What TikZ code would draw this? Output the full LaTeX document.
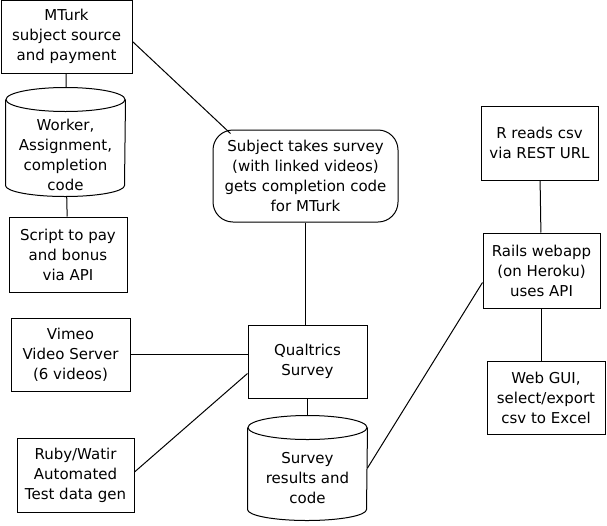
\documentclass[tikz,border=0pt]{standalone}
\usepackage{fontspec}
\setmainfont{DejaVu Sans}
\usetikzlibrary{
backgrounds
}
% database drum drawn on the frame of a named node
\newcommand{\drawdb}[1]{%
  \draw[fill=white] ([yshift=-12pt]#1.north west) -- ([yshift=11pt]#1.south west)
    arc[start angle=180, end angle=360, x radius=59.5pt, y radius=11pt]
    -- ([yshift=-12pt]#1.north east);
  \draw ([yshift=-12pt]#1.north) ellipse[x radius=59.5pt, y radius=12pt];}

\begin{document}
\begin{tikzpicture}[
    x=1pt, y=-1pt,
    line width=1pt,
    txt/.style={align=center, inner sep=0pt, font=\fontsize{15}{20}\selectfont},
    box/.style={txt, draw, fill=white},
    db/.style={inner sep=0pt, minimum width=119},
    rbox/.style={box, rounded corners=20pt}
  ]
  \useasboundingbox (0,0) rectangle (607,525);
  % left column
  \node[box, minimum width=131, minimum height=73] (mturk) at (66.5,36.5) {MTurk\\subject source\\and payment};
  \node[db, minimum height=108] (worker) at (65.5,142) {};
  \drawdb{worker}
  \node[txt] (workertxt) at ([yshift=-13pt]worker.center) {Worker,\\Assignment,\\completion\\code};
  \node[box, minimum width=118, minimum height=75] (pay) at (68,254.5) {Script to pay\\and bonus\\via API};
  \node[box, minimum width=119, minimum height=73] (vimeo) at (70.5,354.5) {Vimeo\\Video Server\\(6 videos)};
  \node[box, minimum width=117, minimum height=74] (ruby) at (75.5,475) {Ruby/Watir\\Automated\\Test data gen};
  % middle column
  \node[rbox, minimum width=185, minimum height=92] (subj) at (305.5,176) {Subject takes survey\\(with linked videos)\\gets completion code\\for MTurk};
  \node[box, minimum width=119, minimum height=73] (qual) at (307.5,361.5) {Qualtrics\\Survey};
  \node[db, minimum height=104] (results) at (307.5,468) {};
  \drawdb{results}
  \node[txt] (resultstxt) at ([yshift=-10pt]results.center) {Survey\\results and\\code};
  % right column
  \node[box, minimum width=117, minimum height=74] (rcsv) at (539.5,143) {R reads csv\\via REST URL};
  \node[box, minimum width=117, minimum height=75] (rails) at (541.5,270.5) {Rails webapp\\(on Heroku)\\uses API};
  \node[box, minimum width=118, minimum height=73] (gui) at (546,397.5) {Web GUI,\\select/export\\csv to Excel};

  \draw (mturk) -- (worker);
  \draw (worker) -- (pay);
  \draw ([yshift=-5pt]mturk.east) -- ([xshift=18pt,yshift=-4pt]subj.north west);
  \draw (subj) -- (subj |- qual.north);
  \draw (vimeo.east) -- (vimeo.east -| qual.west);
  \draw ([yshift=3pt]ruby.east) -- ([yshift=-12pt]qual.west);
  \draw (qual) -- (results);
  \draw (results.east) -- ([yshift=-12pt]rails.west);
  \draw (rcsv) -- (rails);
  \draw (rails) -- (rails |- gui.north);
\end{tikzpicture}
\end{document}
